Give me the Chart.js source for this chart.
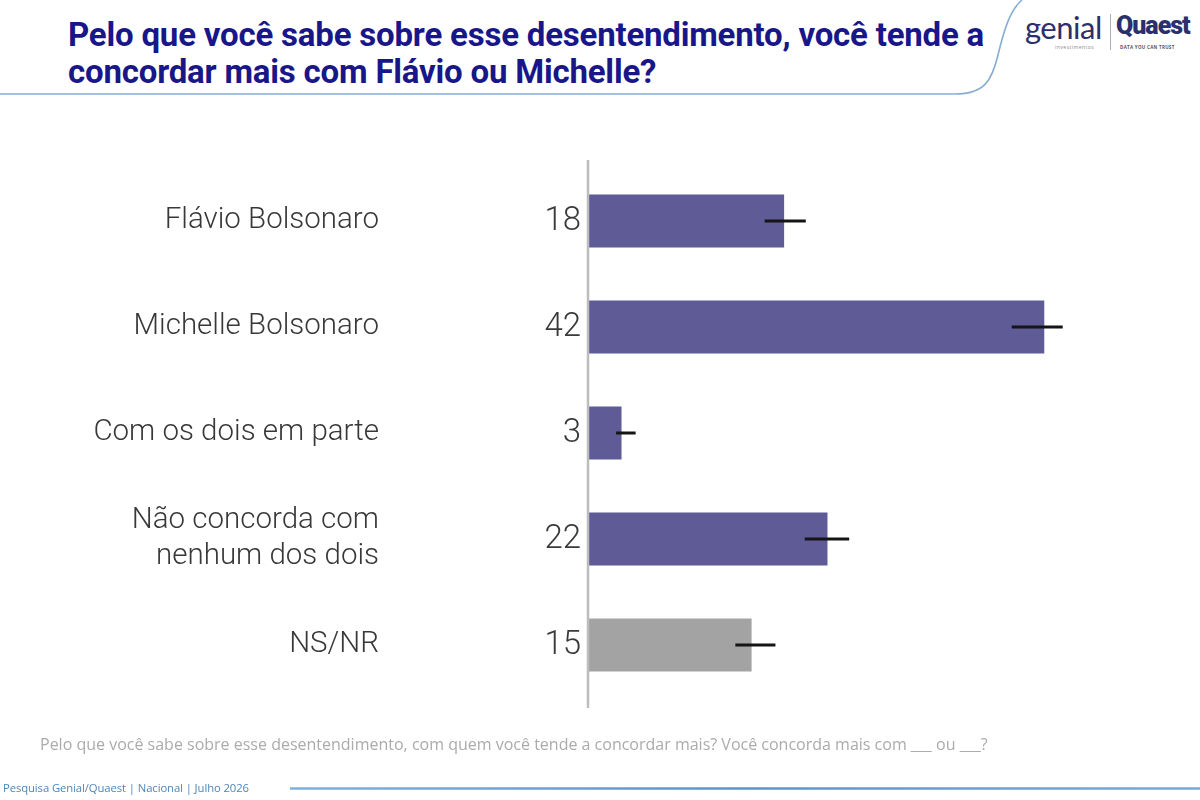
<!DOCTYPE html>
<html>
<head>
<meta charset="utf-8">
<script src="https://cdn.jsdelivr.net/npm/chart.js@4.4.1/dist/chart.umd.min.js"></script>
<style>
  html, body { margin:0; padding:0; background:#fff; }
  #wrap { position:relative; width:1200px; height:800px; overflow:hidden; background:#fff; }
  #chartBox { position:absolute; left:0; top:0; width:1200px; height:800px; }
  .title { position:absolute; left:68px; top:16px; font-family:Roboto, "Liberation Sans", sans-serif; font-weight:700; font-size:33px; line-height:37px; color:#19168a; letter-spacing:-0.2px; white-space:nowrap; }
  .question { position:absolute; left:40px; top:733px; font-family:"Open Sans", Roboto, sans-serif; font-weight:400; font-size:16px; color:#ababab; white-space:nowrap; }
  .credit { position:absolute; left:3px; top:780px; font-family:"Open Sans", Roboto, sans-serif; font-size:11.3px; color:#4d86b9; white-space:nowrap; letter-spacing:-0.1px; }
  .logo1 { position:absolute; left:1025px; top:8px; font-family:Lato, "Open Sans", sans-serif; font-size:31px; color:#2b2f6b; letter-spacing:-0.5px; }
  .logo1s { position:absolute; left:1055px; top:44px; font-family:"Open Sans", sans-serif; font-size:5px; color:#888; letter-spacing:0.5px; }
  .logo2 { position:absolute; left:1116px; top:11px; font-family:Roboto, sans-serif; font-weight:900; font-size:25px; color:#2b2f6b; letter-spacing:-1px; }
  .logo2s { position:absolute; left:1120px; top:44px; font-family:"Open Sans", sans-serif; font-size:4.5px; color:#555; font-weight:700; letter-spacing:0.3px; }
  .sep { position:absolute; left:1110px; top:14px; width:1px; height:36px; background:#aab; }
</style>
</head>
<body>
<div id="wrap">
  <svg width="1200" height="800" style="position:absolute;left:0;top:0">
    <defs>
      <linearGradient id="lg" gradientUnits="userSpaceOnUse" x1="290" x2="1200" y1="0" y2="0">
        <stop offset="0" stop-color="#7fb0dd"/>
        <stop offset="0.5" stop-color="#5f92c6"/>
        <stop offset="1" stop-color="#7aa9d6"/>
      </linearGradient>
    </defs>
    <path d="M0 94 L955 94 C985 94 992 80 998 55 C1004 30 1010 10 1022 0" fill="none" stroke="#85aed2" stroke-width="1.6"/>
    <line x1="290" y1="788.5" x2="1200" y2="788.5" stroke="url(#lg)" stroke-width="2.4"/>
  </svg>
  <div class="title">Pelo que você sabe sobre esse desentendimento, você tende a<br>concordar mais com Flávio ou Michelle?</div>
  <div class="logo1">genial</div>
  <div class="logo1s">investimentos</div>
  <div class="sep"></div>
  <div class="logo2">Quaest</div>
  <div class="logo2s">DATA YOU CAN TRUST</div>
  <div id="chartBox"><canvas id="c" width="1200" height="800"></canvas></div>
  <div class="question">Pelo que você sabe sobre esse desentendimento, com quem você tende a concordar mais? Você concorda mais com ___ ou ___?</div>
  <div class="credit">Pesquisa Genial/Quaest | Nacional | Julho 2026</div>
</div>
<script>
const categories = [
  "Flávio Bolsonaro",
  "Michelle Bolsonaro",
  "Com os dois em parte",
  ["Não concorda com", "nenhum dos dois"],
  "NS/NR"
];
const values = [18, 42, 3, 22, 15];
const errorLow = [16.2, 39, 2.5, 19.9, 13.5];
const errorHigh = [20, 43.7, 4.3, 24, 17.2];
const barColors = ["#5f5b97", "#5f5b97", "#5f5b97", "#5f5b97", "#a3a3a3"];

const axisLinePlugin = {
  id: 'axisLine',
  afterDatasetsDraw(chart) {
    const {ctx, chartArea} = chart;
    ctx.save();
    ctx.strokeStyle = '#bdbdbd';
    ctx.lineWidth = 2.5;
    ctx.beginPath();
    ctx.moveTo(chartArea.left - 1, chartArea.top - 8);
    ctx.lineTo(chartArea.left - 1, chartArea.bottom + 10);
    ctx.stroke();
    ctx.restore();
  }
};

const errorBarPlugin = {
  id: 'errorBars',
  afterDatasetsDraw(chart) {
    const {ctx} = chart;
    const meta = chart.getDatasetMeta(0);
    const xs = chart.scales.x;
    ctx.save();
    ctx.strokeStyle = '#151515';
    ctx.lineWidth = 3;
    meta.data.forEach((bar, i) => {
      const x1 = xs.getPixelForValue(errorLow[i]);
      const x2 = xs.getPixelForValue(errorHigh[i]);
      ctx.beginPath();
      ctx.moveTo(x1, bar.y);
      ctx.lineTo(x2, bar.y);
      ctx.stroke();
    });
    ctx.restore();
  }
};

const valueLabelPlugin = {
  id: 'valueLabels',
  afterDatasetsDraw(chart) {
    const {ctx, chartArea} = chart;
    const meta = chart.getDatasetMeta(0);
    ctx.save();
    ctx.fillStyle = '#3a3a3a';
    ctx.font = '300 33px Roboto';
    ctx.textAlign = 'right';
    ctx.textBaseline = 'middle';
    meta.data.forEach((bar, i) => {
      ctx.fillText(String(values[i]), chartArea.left - 8, bar.y + 1);
    });
    ctx.restore();
  }
};

new Chart(document.getElementById('c'), {
  type: 'bar',
  data: {
    labels: categories,
    datasets: [{
      data: values,
      backgroundColor: barColors,
      borderWidth: 0,
      barPercentage: 0.5,
      categoryPercentage: 1.0
    }]
  },
  options: {
    indexAxis: 'y',
    responsive: false,
    animation: false,
    layout: { padding: { left: 0, right: 69, top: 168, bottom: 102 } },
    plugins: { legend: { display: false }, tooltip: { enabled: false } },
    scales: {
      x: { display: false, min: 0, max: 50 },
      y: {
        grid: { display: false, drawTicks: false },
        border: { display: false },
        ticks: {
          padding: 210,
          color: '#383838',
          font: { family: 'Roboto', size: 29.5, weight: 300, lineHeight: 1.22 }
        },
        afterFit(scale) {
          scale.width = 589;
          scale.paddingTop = 0;
          scale.paddingBottom = 0;
        }
      }
    }
  },
  plugins: [axisLinePlugin, errorBarPlugin, valueLabelPlugin]
});
</script>
</body>
</html>
